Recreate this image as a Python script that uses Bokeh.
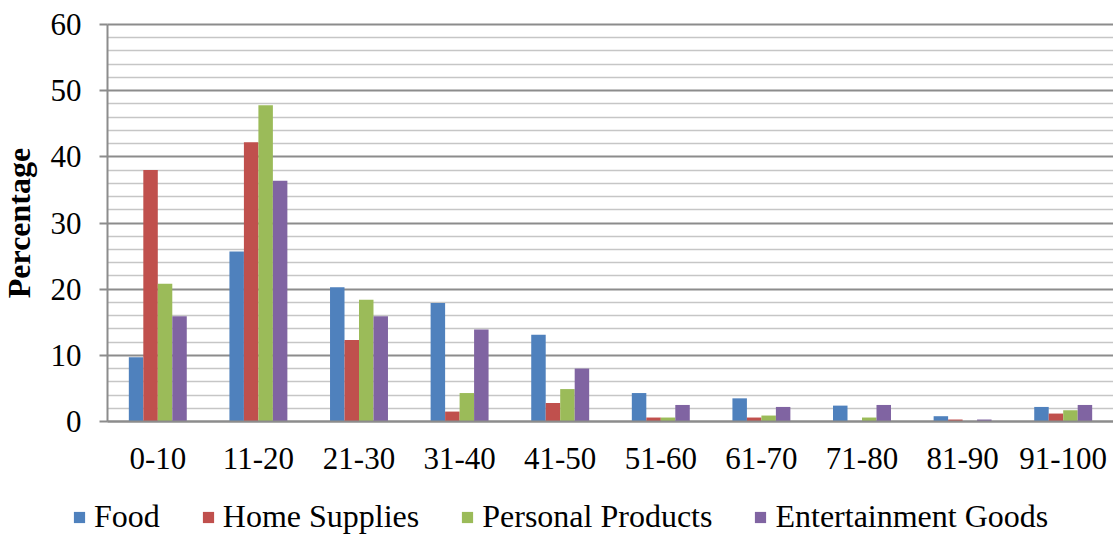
from bokeh.plotting import figure
from bokeh.models import (ColumnDataSource, Range1d, FixedTicker,
                          Legend, LegendItem)
from bokeh.transform import dodge
from bokeh.embed import file_html
from bokeh.resources import INLINE

# Share of respondents (%) by score band, for each product category
bins = ["0-10", "11-20", "21-30", "31-40", "41-50",
        "51-60", "61-70", "71-80", "81-90", "91-100"]
food = [9.7, 25.7, 20.3, 17.9, 13.1, 4.3, 3.5, 2.4, 0.8, 2.2]
home_supplies = [38.0, 42.2, 12.3, 1.5, 2.8, 0.6, 0.6, 0.0, 0.3, 1.2]
personal_products = [20.8, 47.8, 18.4, 4.3, 4.9, 0.6, 0.9, 0.6, 0.0, 1.7]
entertainment_goods = [15.9, 36.4, 15.9, 13.9, 8.0, 2.5, 2.2, 2.5, 0.3, 2.5]

series = [
    ("Food", "food", "#4F81BD"),
    ("Home Supplies", "home", "#C0504D"),
    ("Personal Products", "personal", "#9BBB59"),
    ("Entertainment Goods", "ent", "#8064A2"),
]
y_ticks = [0, 10, 20, 30, 40, 50, 60]
y_minor = [v for v in range(0, 61, 2) if v % 10]

pos = list(range(len(bins)))
source = ColumnDataSource(dict(pos=pos, food=food, home=home_supplies,
                               personal=personal_products, ent=entertainment_goods))

FONT = "Liberation Serif"
W, H = 1113, 534

# Plot area inside the canvas (pixels): left edge, top, bottom of the value axis
AREA_L, AREA_T, AREA_B = 107, 24, 421
n = len(bins)
px_per_cat = (W - AREA_L) / n
px_per_unit = (AREA_B - AREA_T) / 60.0
x_start = -0.5 - AREA_L / px_per_cat
y_start = -(H - AREA_B) / px_per_unit
y_end = 60 + AREA_T / px_per_unit

p = figure(width=W, height=H,
           x_range=Range1d(x_start, n - 0.5),
           y_range=Range1d(y_start, y_end),
           output_backend="svg", toolbar_location=None,
           min_border_left=0, min_border_right=0,
           min_border_top=0, min_border_bottom=0)

bar_w = 0.144
offsets = [-1.5 * bar_w, -0.5 * bar_w, 0.5 * bar_w, 1.5 * bar_w]
items = []
for (label, col, color), off in zip(series, offsets):
    r = p.vbar(x=dodge("pos", off), top=col, width=bar_w,
               source=source, fill_color=color, line_color=None)
    items.append(LegendItem(label=label, renderers=[r]))

# value axis, pinned to the left edge of the first band
p.yaxis.fixed_location = -0.5
p.yaxis.bounds = (0, 60)
p.yaxis.ticker = FixedTicker(ticks=y_ticks, minor_ticks=y_minor)
p.yaxis.axis_line_color = "#8c8c8c"
p.yaxis.axis_line_width = 2
p.yaxis.major_tick_line_color = "#8c8c8c"
p.yaxis.major_tick_line_width = 2
p.yaxis.major_tick_out = 8
p.yaxis.major_tick_in = 0
p.yaxis.minor_tick_out = 0
p.yaxis.minor_tick_in = 0
p.yaxis.major_label_standoff = 18
p.yaxis.major_label_text_font = FONT
p.yaxis.major_label_text_font_size = "31px"
p.yaxis.major_label_text_color = "black"
p.yaxis.axis_label = "Percentage"
p.yaxis.axis_label_text_font = FONT
p.yaxis.axis_label_text_font_size = "32px"
p.yaxis.axis_label_text_font_style = "bold"
p.yaxis.axis_label_text_color = "black"
p.yaxis.axis_label_standoff = 11

p.ygrid.cross_bounds = (-0.5, n - 0.5)
p.ygrid.grid_line_color = "#8c8c8c"
p.ygrid.grid_line_width = 2
p.ygrid.minor_grid_line_color = "#c6c6c6"
p.ygrid.minor_grid_line_width = 1.5
p.xgrid.grid_line_color = None

# category axis along the zero line
p.xaxis.fixed_location = 0
p.xaxis.bounds = (-0.5, n - 0.5)
p.xaxis.ticker = FixedTicker(ticks=pos)
p.xaxis.major_label_overrides = {i: b for i, b in zip(pos, bins)}
p.xaxis.axis_line_color = "#8c8c8c"
p.xaxis.axis_line_width = 2
p.xaxis.major_tick_line_color = None
p.xaxis.minor_tick_line_color = None
p.xaxis.major_tick_out = 0
p.xaxis.major_label_standoff = 26
p.xaxis.major_label_text_font = FONT
p.xaxis.major_label_text_font_size = "31px"
p.xaxis.major_label_text_color = "black"

p.outline_line_color = None

legend = Legend(items=items, orientation="horizontal", location=(72, -1),
                glyph_width=14, glyph_height=14, label_standoff=8, spacing=41,
                padding=0, margin=0, border_line_color=None,
                background_fill_alpha=0,
                label_text_font=FONT, label_text_font_size="32px",
                label_text_color="black")
p.add_layout(legend, "center")

open("out.html", "w").write(file_html(p, INLINE))
